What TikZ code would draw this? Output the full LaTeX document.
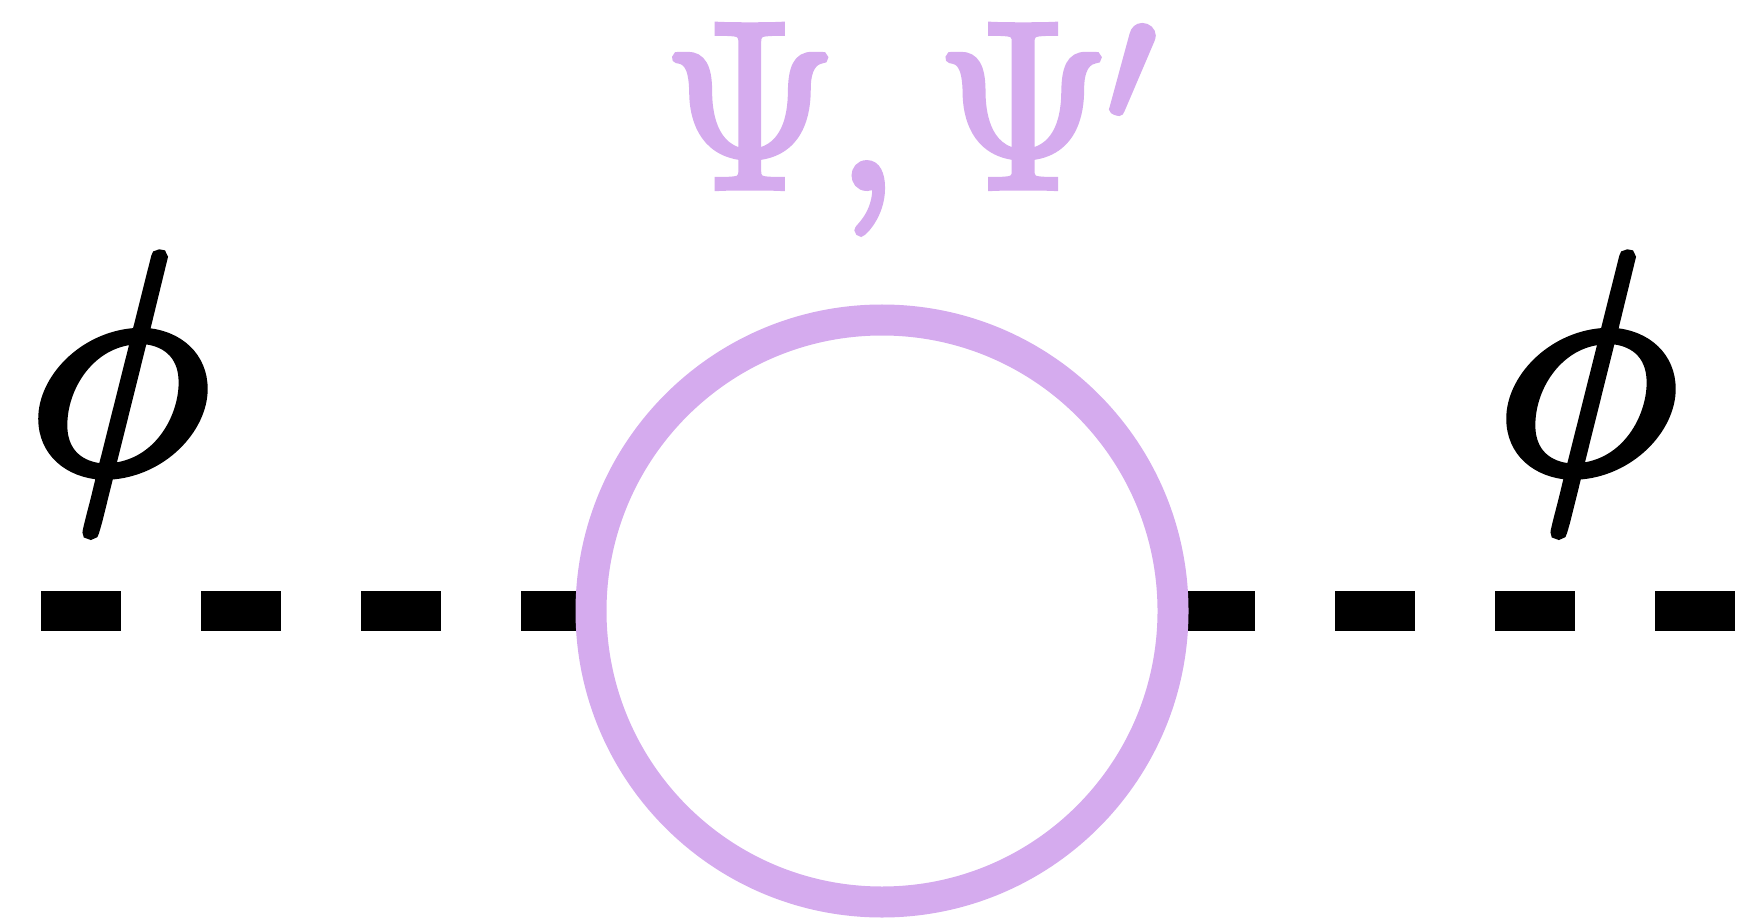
\RequirePackage{fix-cm}
\documentclass[tikz,border=0pt]{standalone}
\usepackage{fontspec}
\definecolor{lilac}{RGB}{213,171,238}
% thicker glyphs: fill and stroke the text
\newcommand{\heavy}[2]{\special{pdf:literal direct 2 Tr #1 w}#2\special{pdf:literal direct 0 Tr}}

\begin{document}
\begin{tikzpicture}[x=0.5pt,y=0.5pt,
  sc/.style={line width=20pt,dash pattern=on 40pt off 40pt},
  fer/.style={draw=lilac,line width=15.5pt},
  lab/.style={inner sep=0pt,font=\fontsize{156}{156}\selectfont},
  flab/.style={inner sep=0pt,text=lilac,font=\fontsize{118}{118}\selectfont}]
  \useasboundingbox (0,0) rectangle (1738,922);
  \coordinate (inL) at (41,311);
  \coordinate (outR) at (1735,311);
  \coordinate (c) at (882,311);
  \coordinate (vL) at (591,311);
  \coordinate (vR) at (1173,311);
  \draw[sc] (inL) -- (vL);
  \draw[sc] (outR) -- (vR);
  \draw[fer] (c) circle (291);
  \node[lab] (phiL) at (119,529) {\heavy{5}{$\phi$}};
  \node[lab] (phiR) at (1587,529) {\heavy{5}{$\phi$}};
  \node[flab,anchor=base] (psi) at (910,735)
    {\heavy{4}{$\Psi,\Psi^{\raisebox{-9pt}{$\scriptstyle\prime$}}$}};
\end{tikzpicture}
\end{document}
